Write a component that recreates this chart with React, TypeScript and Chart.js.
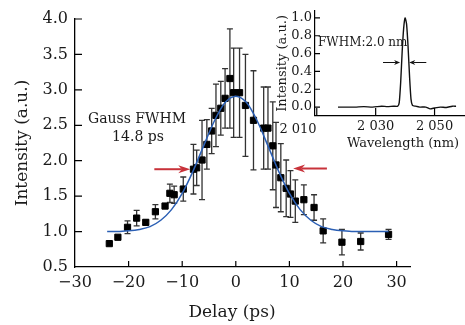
import { useEffect, useRef } from 'react';
import { Chart, registerables } from 'chart.js';

Chart.register(...registerables);

const FONT = "'DejaVu Serif', serif";
const TEXT = '#1a1a1a';

// Main chart: autocorrelation trace
const delay = [-23.6, -22.0, -20.2, -18.5, -16.8, -15.0, -13.2, -12.3, -11.5, -9.8, -7.9, -7.3, -6.3, -5.4, -4.5, -3.7, -2.8, -2.0, -1.1, -0.4, 0.7, 1.8, 3.3, 5.2, 6.0, 6.9, 7.5, 8.4, 9.4, 10.2, 11.1, 12.7, 14.6, 16.3, 19.8, 23.3, 28.5];
const intensity = [0.83, 0.92, 1.06, 1.19, 1.13, 1.28, 1.36, 1.54, 1.52, 1.60, 1.88, 1.90, 2.01, 2.23, 2.42, 2.64, 2.74, 2.88, 3.16, 2.96, 2.96, 2.78, 2.57, 2.46, 2.46, 2.21, 1.94, 1.76, 1.61, 1.53, 1.43, 1.45, 1.34, 1.01, 0.85, 0.86, 0.96];
const intensityErr = [0, 0, 0.09, 0.11, 0.03, 0.10, 0.03, 0.13, 0.12, 0.17, 0.35, 0.25, 0.56, 0.35, 0.32, 0.44, 0.38, 0.42, 0.70, 0.63, 0.63, 0.72, 0.70, 0.58, 0.58, 0.62, 0.60, 0.48, 0.40, 0.33, 0.30, 0.21, 0.18, 0.17, 0.18, 0.12, 0.07];

// Gaussian fit curve
const fitDelay = [-24, -22, -20, -18, -16, -14, -12, -10, -8, -6, -4, -2, 0, 2, 4, 6, 8, 10, 12, 14, 16, 18, 20, 22, 24, 28.5];
const fitIntensity = [1.00, 1.00, 1.01, 1.03, 1.07, 1.16, 1.31, 1.54, 1.85, 2.21, 2.56, 2.82, 2.91, 2.82, 2.56, 2.21, 1.85, 1.54, 1.31, 1.16, 1.07, 1.03, 1.01, 1.00, 1.00, 1.00];

const delayTicks = [-30, -20, -10, 0, 10, 20, 30];
const intensityTicks = [0.5, 1.0, 1.5, 2.0, 2.5, 3.0, 3.5, 4.0];

// Inset: spectrum
const wavelength = [2017.2, 2020, 2023, 2026, 2029, 2032, 2034, 2036, 2037.5, 2038.0, 2038.5, 2039.0, 2039.5, 2040.0, 2040.5, 2041.0, 2041.5, 2042.0, 2042.5, 2043.5, 2045, 2047, 2048.5, 2050, 2052, 2054, 2056, 2057.3];
const spectrum = [0.00, 0.00, 0.00, 0.005, 0.0, 0.01, 0.005, 0.01, 0.01, 0.05, 0.28, 0.62, 0.88, 1.0, 0.93, 0.68, 0.35, 0.09, 0.02, 0.01, 0.0, 0.0, -0.02, -0.01, 0.0, -0.005, 0.01, 0.01];
const wavelengthTicks = [2010, 2030, 2050];
const spectrumTicks = [0.0, 0.2, 0.4, 0.6, 0.8, 1.0];

function drawInnerTicks(chart: any, xLen: number, yLen: number) {
  const { ctx, chartArea: a, scales: { x, y } } = chart;
  ctx.save();
  ctx.strokeStyle = '#000';
  ctx.lineWidth = 1.2;
  ctx.beginPath();
  x.ticks.forEach((t: any) => {
    const px = x.getPixelForValue(t.value);
    if (Math.abs(px - a.left) < 1) return;
    ctx.moveTo(px, a.bottom);
    ctx.lineTo(px, a.bottom - xLen);
  });
  y.ticks.forEach((t: any) => {
    const py = y.getPixelForValue(t.value);
    if (Math.abs(py - a.bottom) < 1) return;
    ctx.moveTo(a.left, py);
    ctx.lineTo(a.left + yLen, py);
  });
  ctx.stroke();
  ctx.restore();
}

function arrow(ctx: CanvasRenderingContext2D, x1: number, x2: number, y: number, color: string, lw: number, headLen: number, headHalf: number) {
  const dir = Math.sign(x2 - x1);
  ctx.save();
  ctx.strokeStyle = color;
  ctx.fillStyle = color;
  ctx.lineWidth = lw;
  ctx.beginPath();
  ctx.moveTo(x1, y);
  ctx.lineTo(x2 - dir * headLen * 0.7, y);
  ctx.stroke();
  ctx.beginPath();
  ctx.moveTo(x2, y);
  ctx.lineTo(x2 - dir * headLen, y - headHalf);
  ctx.lineTo(x2 - dir * headLen * 0.7, y);
  ctx.lineTo(x2 - dir * headLen, y + headHalf);
  ctx.closePath();
  ctx.fill();
  ctx.restore();
}

const mainDeco = {
  id: 'mainDeco',
  beforeDatasetsDraw(chart: any) {
    const { ctx, scales: { x, y } } = chart;
    ctx.save();
    ctx.strokeStyle = '#333';
    ctx.lineWidth = 1.3;
    delay.forEach((d, i) => {
      const e = intensityErr[i];
      if (!e) return;
      const px = x.getPixelForValue(d);
      const top = y.getPixelForValue(intensity[i] + e);
      const bot = y.getPixelForValue(intensity[i] - e);
      ctx.beginPath();
      ctx.moveTo(px, top);
      ctx.lineTo(px, bot);
      ctx.moveTo(px - 3, top);
      ctx.lineTo(px + 3, top);
      ctx.moveTo(px - 3, bot);
      ctx.lineTo(px + 3, bot);
      ctx.stroke();
    });
    ctx.restore();
  },
  afterDraw(chart: any) {
    const { ctx, scales: { x, y } } = chart;
    drawInnerTicks(chart, 6, 7);
    const red = '#c8323a';
    arrow(ctx, x.getPixelForValue(-15.2), x.getPixelForValue(-8.5), y.getPixelForValue(1.88), red, 2, 12, 4);
    arrow(ctx, x.getPixelForValue(17.0), x.getPixelForValue(10.7), y.getPixelForValue(1.89), red, 2, 12, 4);
    ctx.save();
    ctx.fillStyle = TEXT;
    ctx.font = `14px ${FONT}`;
    ctx.textBaseline = 'middle';
    ctx.textAlign = 'left';
    ctx.fillText('Gauss FWHM', 88, 119);
    ctx.textAlign = 'center';
    ctx.fillText('14.8 ps', 138, 137);
    ctx.font = `17px ${FONT}`;
    ctx.fillText('Delay (ps)', 232, 313);
    ctx.restore();
  },
};

const insetDeco = {
  id: 'insetDeco',
  afterDraw(chart: any) {
    const { ctx, chartArea: a, scales: { x, y } } = chart;
    drawInnerTicks(chart, 8, 5);
    const yy = y.getPixelForValue(0.5);
    arrow(ctx, x.getPixelForValue(2032.5), x.getPixelForValue(2038.3), yy, '#111', 1, 6, 2.5);
    arrow(ctx, x.getPixelForValue(2047.2), x.getPixelForValue(2041.4), yy, '#111', 1, 6, 2.5);
    ctx.save();
    ctx.fillStyle = TEXT;
    ctx.font = `12px ${FONT}`;
    ctx.textBaseline = 'middle';
    ctx.textAlign = 'left';
    ctx.fillText('FWHM:2.0 nm', 318, 43);
    ctx.font = `13px ${FONT}`;
    ctx.textAlign = 'center';
    ctx.fillText('2 010', 298, a.bottom + 13.5);
    ctx.fillText('Wavelength (nm)', 403, 144);
    ctx.restore();
  },
};

export default function App() {
  const mainRef = useRef<HTMLCanvasElement>(null);
  const insetRef = useRef<HTMLCanvasElement>(null);

  useEffect(() => {
    const main = new Chart(mainRef.current!, {
      type: 'scatter',
      data: {
        datasets: [
          {
            type: 'line',
            data: fitDelay.map((d, i) => ({ x: d, y: fitIntensity[i] })),
            borderColor: '#2b5fb4',
            borderWidth: 1.5,
            pointRadius: 0,
            cubicInterpolationMode: 'monotone',
            fill: false,
          } as any,
          {
            type: 'scatter',
            data: delay.map((d, i) => ({ x: d, y: intensity[i] })),
            pointStyle: 'rect',
            pointRadius: 4.4,
            backgroundColor: '#000',
            borderColor: '#000',
            borderWidth: 1,
          },
        ],
      },
      options: {
        responsive: false,
        animation: false,
        events: [],
        layout: { padding: { left: 0, top: 19, right: 55, bottom: 0 } },
        plugins: { legend: { display: false }, tooltip: { enabled: false } },
        scales: {
          x: {
            type: 'linear',
            min: -30,
            max: 32.5,
            afterBuildTicks: (s: any) => { s.ticks = delayTicks.map((v) => ({ value: v })); },
            afterFit: (s: any) => { s.height = 58; },
            grid: { display: false, drawTicks: false },
            border: { display: true, color: '#000', width: 1.3 },
            ticks: {
              padding: 6,
              color: TEXT,
              font: { family: FONT, size: 16 },
              autoSkip: false,
              maxRotation: 0,
              callback: (v: any) => (v < 0 ? '\u2212' + Math.abs(v) : String(v)),
            },
          },
          y: {
            min: 0.5,
            max: 4.0,
            afterBuildTicks: (s: any) => { s.ticks = intensityTicks.map((v) => ({ value: v })); },
            afterFit: (s: any) => { s.width = 75; },
            grid: { display: false, drawTicks: false },
            border: { display: true, color: '#000', width: 1.3 },
            ticks: {
              padding: 7,
              color: TEXT,
              font: { family: FONT, size: 16 },
              autoSkip: false,
              callback: (v: any) => Number(v).toFixed(1),
            },
            title: {
              display: true,
              text: 'Intensity (a.u.)',
              color: TEXT,
              font: { family: FONT, size: 17 },
              padding: { top: 12, bottom: 0 },
            },
          },
        },
      },
      plugins: [mainDeco],
    } as any);

    const inset = new Chart(insetRef.current!, {
      type: 'line',
      data: {
        datasets: [
          {
            data: wavelength.map((w, i) => ({ x: w, y: spectrum[i] })),
            borderColor: '#111',
            borderWidth: 1.4,
            pointRadius: 0,
            tension: 0.2,
            fill: false,
          },
        ],
      },
      options: {
        responsive: false,
        animation: false,
        events: [],
        layout: { padding: { left: 270, top: 2, right: 1, bottom: 165 } },
        plugins: { legend: { display: false }, tooltip: { enabled: false } },
        scales: {
          x: {
            type: 'linear',
            min: 2009.4,
            max: 2060,
            afterBuildTicks: (s: any) => { s.ticks = wavelengthTicks.map((v) => ({ value: v })); },
            afterFit: (s: any) => { s.height = 44; },
            grid: { display: false, drawTicks: false },
            border: { display: true, color: '#000', width: 1.2 },
            ticks: {
              padding: 3,
              color: TEXT,
              font: { family: FONT, size: 13 },
              autoSkip: false,
              maxRotation: 0,
              callback: (v: any) => {
                if (v === 2010) return '';
                const s = String(v);
                return s.slice(0, 1) + ' ' + s.slice(1);
              },
            },
          },
          y: {
            min: -0.1,
            max: 1.08,
            afterBuildTicks: (s: any) => { s.ticks = spectrumTicks.map((v) => ({ value: v })); },
            afterFit: (s: any) => { s.width = 45; },
            grid: { display: false, drawTicks: false },
            border: { display: true, color: '#000', width: 1.2 },
            ticks: {
              padding: 3,
              color: TEXT,
              font: { family: FONT, size: 13 },
              autoSkip: false,
              callback: (v: any) => Number(v).toFixed(1),
            },
            title: {
              display: true,
              text: 'Intensity (a.u.)',
              color: TEXT,
              font: { family: FONT, size: 13 },
              padding: { top: 5, bottom: 0 },
            },
          },
        },
      },
      plugins: [insetDeco],
    } as any);

    return () => {
      main.destroy();
      inset.destroy();
    };
  }, []);

  return (
    <div style={{ position: 'fixed', left: 0, top: 0, width: 465, height: 325, background: '#fff' }}>
      <canvas ref={mainRef} width={465} height={325} style={{ position: 'absolute', left: 0, top: 0, display: 'block' }} />
      <canvas ref={insetRef} width={465} height={325} style={{ position: 'absolute', left: 0, top: 0, display: 'block' }} />
    </div>
  );
}
